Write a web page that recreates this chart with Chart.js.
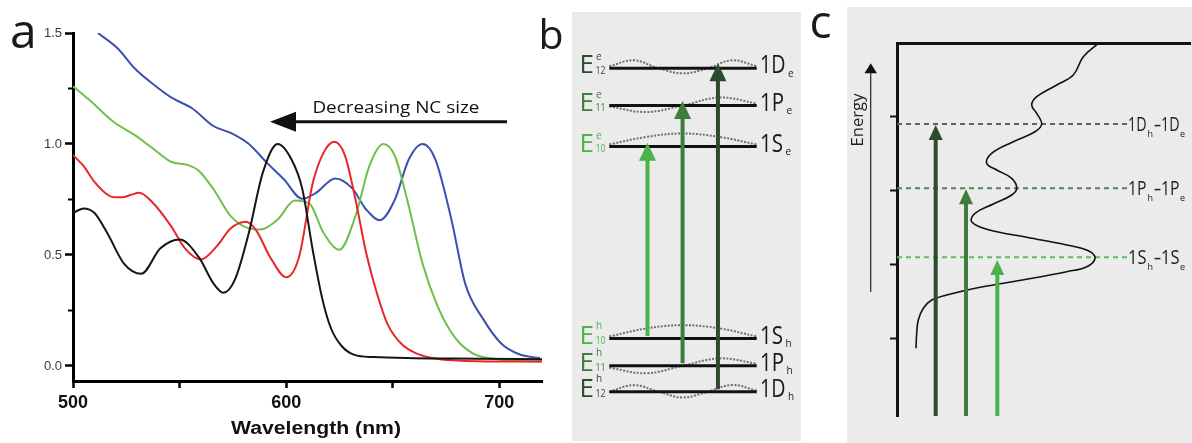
<!DOCTYPE html>
<html><head><meta charset="utf-8">
<script src="https://cdn.jsdelivr.net/npm/chart.js@4/dist/chart.umd.min.js"></script>
<style>
html,body{margin:0;padding:0;background:#fff;width:1192px;height:443px;overflow:hidden;position:relative}
canvas{position:absolute;top:0}
.bg{position:absolute;background:#ebebeb}
</style></head><body>
<div class="bg" style="left:572px;top:12px;width:229px;height:429px"></div>
<div class="bg" style="left:847px;top:7px;width:345px;height:436px"></div>
<canvas id="ca" width="575" height="443" style="left:0"></canvas>
<canvas id="cb" width="280" height="443" style="left:560px"></canvas>
<canvas id="cc" width="352" height="443" style="left:840px"></canvas>
<script>
// ---------- Panel a : absorption spectra ----------
const blackNm  = [500,505,510,516,524,532,541,550,559,566,570.5,576,582.5,589,596,602.5,607.5,612.5,617,621,626,632,641,660,690,720];
const blackAbs = [0.69,0.71,0.69,0.60,0.46,0.415,0.53,0.57,0.49,0.37,0.33,0.39,0.60,0.87,1.0,0.93,0.80,0.52,0.30,0.17,0.09,0.05,0.04,0.035,0.033,0.03];
const redNm  = [500,505,510,515,519,523,527,531,537,546,552.5,560,567.5,574,581,586,592.5,600,606,612.5,617.5,622.5,627.5,632.5,637.5,642.5,647.5,654,661,669,680,700,720];
const redAbs = [0.95,0.90,0.83,0.78,0.76,0.76,0.77,0.78,0.74,0.63,0.53,0.48,0.54,0.62,0.65,0.61,0.49,0.40,0.49,0.825,0.96,1.01,0.95,0.75,0.51,0.33,0.19,0.10,0.057,0.035,0.025,0.02,0.02];
const greenNm  = [500,507.5,519,529,537.5,546,554,559,566,574,582.5,588,596,604,611,617.5,625,632.5,639,645.5,651,657.5,664,671,679,687.5,699,710,720];
const greenAbs = [1.26,1.20,1.10,1.04,0.98,0.92,0.905,0.88,0.795,0.675,0.62,0.615,0.66,0.745,0.73,0.60,0.524,0.675,0.90,1.00,0.946,0.72,0.46,0.27,0.13,0.057,0.03,0.022,0.02];
const blueNm  = [511.7,521,529,537.5,546,556,566,574,582.5,591,599,607.5,614,623,631,637.5,644,651,657.5,664,670,677.5,684,692.5,701,709,719];
const blueAbs = [1.50,1.43,1.34,1.27,1.21,1.16,1.08,1.05,1.0,0.915,0.84,0.753,0.78,0.845,0.80,0.705,0.657,0.75,0.93,1.0,0.93,0.66,0.37,0.21,0.10,0.054,0.035];
const xTicksA = [500,550,600,650,700];
const xLabelsA = {500:'500',600:'600',700:'700'};
const yTicksA = [0,0.5,1.0,1.5];
const yMinorA = [0.25,0.75,1.25];
const xTitleA = 'Wavelength (nm)';
const annotText = 'Decreasing NC size';
const annotArrowNm = [703.6, 592.4];
const annotArrowAbs = 1.10;
const annotTextNm = 612.3, annotTextAbs = 1.14;

// ---------- Panel b : energy levels ----------
const elecLevelE = [1.92, 2.33, 2.702];       // 1Se, 1Pe, 1De
const holeLevelE = [0, -0.272, -0.532];       // 1Sh, 1Ph, 1Dh
const levelMain = ['1S','1P','1D'];
const levelMainW = [23, 24, 25.5];
const levelIdx = ['10','11','12'];
const levelColors = ['#4cb24c','#3e7d3e','#2d4b2d'];
const waveX5 = [0,0.25,0.5,0.75,1];
const waveX7 = [0,0.167,0.333,0.5,0.667,0.833,1];
const waveSe = [0.02,0.095,0.13,0.095,0.02];
const wavePe = [-0.01,-0.065,0,0.08,0.02];
const waveDe = [0.02,0.08,0,-0.05,0,0.08,0.02];
const waveSh = [0.02,0.1,0.133,0.1,0.02];
const wavePh = [-0.02,-0.075,0,0.073,0.02];
const waveDh = [0,0.065,0,-0.057,0,0.067,0.01];
const transX = [0.259, 0.497, 0.737];
const transStart = [0.025, -0.248, -0.508];
const transTip = [1.958, 2.375, 2.752];

// ---------- Panel c : absorption vs energy ----------
const curveAbs = [0.19,0.197,0.213,0.263,0.347,0.497,0.83,1.297,1.697,1.897,1.98,1.913,1.697,1.297,0.897,0.747,0.78,0.963,1.147,1.197,1.147,0.997,0.897,0.947,1.163,1.38,1.447,1.397,1.347,1.397,1.597,1.763,1.863,2.013];
const curveE   = [0.677,0.827,0.96,1.077,1.16,1.21,1.287,1.367,1.443,1.493,1.577,1.653,1.71,1.787,1.867,1.943,2.027,2.12,2.21,2.277,2.377,2.46,2.527,2.627,2.743,2.843,2.92,3.027,3.11,3.193,3.31,3.41,3.593,3.727];
const transE = [1.587, 2.277, 2.92];          // 1Sh-1Se, 1Ph-1Pe, 1Dh-1De
const dashColors = ['#5cbf5c','#558455','#4f6d4f'];
const cArrowX = [1.003, 0.69, 0.387];
const cArrowTip = [1.56, 2.267, 2.91];
const energyTicks = [0.777, 1.52, 2.253, 2.993];
const energyArrow = {x:-0.263, from:1.24, to:3.527};
const energyText = 'Energy';

// ---------- helpers ----------
function txt(ctx, s, x, y, size, color, o) {
  o = o || {};
  ctx.save();
  ctx.font = (o.weight || 'normal') + ' ' + size + 'px ' + (o.family || "'Open Sans', sans-serif");
  ctx.fillStyle = color;
  ctx.textBaseline = 'alphabetic';
  ctx.textAlign = o.align || 'left';
  let sx = 1;
  if (o.width) sx = o.width / ctx.measureText(s).width;
  ctx.translate(x, y);
  if (o.rot) ctx.rotate(o.rot);
  ctx.scale(sx, 1);
  ctx.fillText(s, 0, 0);
  ctx.restore();
}
function tri(ctx, x, tipY, len, w, color) {
  ctx.save(); ctx.fillStyle = color; ctx.beginPath();
  ctx.moveTo(x, tipY); ctx.lineTo(x - w/2, tipY + len); ctx.lineTo(x + w/2, tipY + len);
  ctx.closePath(); ctx.fill(); ctx.restore();
}
const pts = (xs, ys) => xs.map((x, i) => ({x, y: ys[i]}));
Chart.defaults.font.family = "'Liberation Sans', Arial, sans-serif";

// ---------- Chart a ----------
const plugA = {
  id: 'plugA',
  afterDraw(chart) {
    const ctx = chart.ctx, xs = chart.scales.x, ys = chart.scales.y, ca = chart.chartArea;
    ctx.save(); ctx.strokeStyle = '#000'; ctx.lineWidth = 2;
    yMinorA.forEach(v => { const p = ys.getPixelForValue(v); ctx.beginPath(); ctx.moveTo(ca.left - 5, p); ctx.lineTo(ca.left, p); ctx.stroke(); });
    const ay = ys.getPixelForValue(annotArrowAbs);
    const x1 = xs.getPixelForValue(annotArrowNm[0]), x2 = xs.getPixelForValue(annotArrowNm[1]);
    ctx.strokeStyle = '#111'; ctx.lineWidth = 3;
    ctx.beginPath(); ctx.moveTo(x1, ay); ctx.lineTo(x2 + 20, ay); ctx.stroke();
    ctx.fillStyle = '#111'; ctx.beginPath();
    ctx.moveTo(x2, ay); ctx.lineTo(x2 + 26, ay - 10); ctx.lineTo(x2 + 26, ay + 10); ctx.closePath(); ctx.fill();
    ctx.restore();
    txt(ctx, annotText, xs.getPixelForValue(annotTextNm), ys.getPixelForValue(annotTextAbs), 16.5, '#111', {width: 167});
    txt(ctx, xTitleA, 316, 434, 17.5, '#111', {weight: 'bold', family: "'Liberation Sans', Arial, sans-serif", width: 170, align: 'center'});
    txt(ctx, 'a', 10, 48, 48, '#1a1a1a');
    txt(ctx, 'b', 538.5, 49, 41, '#1a1a1a');
  }
};
const lineDs = (label, xs, ys, color) => ({label, data: pts(xs, ys), borderColor: color, borderWidth: 2, pointRadius: 0, cubicInterpolationMode: 'monotone', fill: false});
new Chart(document.getElementById('ca'), {
  type: 'line',
  data: {datasets: [
    lineDs('black', blackNm, blackAbs, '#151515'),
    lineDs('red', redNm, redAbs, '#e8262b'),
    lineDs('green', greenNm, greenAbs, '#6fc04b'),
    lineDs('blue', blueNm, blueAbs, '#3b50b2')
  ]},
  options: {
    responsive: false, animation: false, devicePixelRatio: 1,
    layout: {padding: {left: 0, top: 33, right: 33, bottom: 0}},
    plugins: {legend: {display: false}, tooltip: {enabled: false}},
    scales: {
      x: {type: 'linear', min: 500, max: 720,
        afterFit(s) { s.height = 62; },
        afterBuildTicks(s) { s.ticks = xTicksA.map(v => ({value: v})); },
        border: {display: true, color: '#000', width: 3},
        grid: {display: true, drawOnChartArea: false, drawTicks: true, tickLength: 7, tickWidth: 2.5, color: '#000'},
        ticks: {callback: v => xLabelsA[v] || '', font: {size: 18, weight: 'bold'}, color: '#111', padding: 4, maxRotation: 0, autoSkip: false}
      },
      y: {type: 'linear', min: -0.0676, max: 1.5,
        afterFit(s) { s.width = 73; },
        afterBuildTicks(s) { s.ticks = yTicksA.map(v => ({value: v})); },
        border: {display: true, color: '#000', width: 3},
        grid: {display: true, drawOnChartArea: false, drawTicks: true, tickLength: 8, tickWidth: 2.5, color: '#000'},
        ticks: {callback: v => Number(v).toFixed(1), font: {size: 13}, color: '#3a3a3a', padding: 3}
      }
    }
  },
  plugins: [plugA]
});

// ---------- Chart b ----------
const bDatasets = [];
transX.forEach((x, i) => bDatasets.push({data: [{x, y: transStart[i]}, {x, y: transTip[i] - 0.12}], borderColor: levelColors[i], borderWidth: 4, pointRadius: 0, tension: 0, order: 0, head: {x, tip: transTip[i], color: levelColors[i]}}));
const waves = [[waveX5, waveSe, elecLevelE[0]], [waveX5, wavePe, elecLevelE[1]], [waveX7, waveDe, elecLevelE[2]],
               [waveX5, waveSh, holeLevelE[0]], [waveX5, wavePh, holeLevelE[1]], [waveX7, waveDh, holeLevelE[2]]];
waves.forEach(([wx, wy, E]) => bDatasets.push({data: wx.map((x, k) => ({x, y: E + wy[k]})), borderColor: '#6e6e6e', borderWidth: 2, borderDash: [2, 1.5], pointRadius: 0, tension: 0.4, order: 2}));
elecLevelE.concat(holeLevelE).forEach(E => bDatasets.push({data: [{x: 0, y: E}, {x: 1, y: E}], borderColor: '#111', borderWidth: 3, pointRadius: 0, tension: 0, order: 1}));
const plugB = {
  id: 'plugB',
  afterDatasetsDraw(chart) {
    const ctx = chart.ctx, xs = chart.scales.x, ys = chart.scales.y;
    chart.data.datasets.forEach(ds => { if (ds.head) tri(ctx, xs.getPixelForValue(ds.head.x), ys.getPixelForValue(ds.head.tip), 18, 17, ds.head.color); });
  },
  afterDraw(chart) {
    const ctx = chart.ctx, xs = chart.scales.x, ys = chart.scales.y;
    const xE = xs.getPixelForValue(-0.202), xR = xs.getPixelForValue(1.022);
    [[elecLevelE, 'e'], [holeLevelE, 'h']].forEach(([levels, s]) => {
      levels.forEach((E, i) => {
        const py = ys.getPixelForValue(E), col = levelColors[i];
        txt(ctx, 'E', xE, py + 5, 26, col);
        txt(ctx, s, xE + 16.5, py - (s === 'e' ? 8 : 10), 10, col);
        txt(ctx, levelIdx[i], xE + 16, py + 5.5, 10, col, {width: 10});
        txt(ctx, levelMain[i], xR, py + 5, 25, '#1a1a1a', {width: levelMainW[i]});
        txt(ctx, s, xR + levelMainW[i] + 2.5, py + 8.5, 10, '#1a1a1a');
      });
    });
    txt(ctx, 'c', 249.5, 38, 46, '#1a1a1a');
  }
};
new Chart(document.getElementById('cb'), {
  type: 'scatter',
  data: {datasets: bDatasets.map(d => Object.assign({showLine: true, fill: false}, d))},
  options: {
    responsive: false, animation: false, devicePixelRatio: 1,
    layout: {padding: 0},
    plugins: {legend: {display: false}, tooltip: {enabled: false}},
    scales: {
      x: {type: 'linear', display: false, min: -0.3345, max: 1.565},
      y: {type: 'linear', display: false, min: -1.045, max: 3.385}
    }
  },
  plugins: [plugB]
});

// ---------- Chart c ----------
const cDatasets = [];
cArrowX.forEach((x, i) => cDatasets.push({data: [{x, y: 0}, {x, y: cArrowTip[i] - 0.1}], borderColor: levelColors[i], borderWidth: 4, pointRadius: 0, tension: 0, order: 0, head: {x, tip: cArrowTip[i], color: levelColors[i]}}));
cDatasets.push({data: pts(curveAbs, curveE), borderColor: '#111', borderWidth: 1.6, pointRadius: 0, tension: 0.4, order: 1});
transE.forEach((E, i) => cDatasets.push({data: [{x: 0, y: E}, {x: 2.305, y: E}], borderColor: dashColors[i], borderWidth: 2, borderDash: [5, 4], pointRadius: 0, tension: 0, order: 2}));
const plugC = {
  id: 'plugC',
  afterDatasetsDraw(chart) {
    const ctx = chart.ctx, xs = chart.scales.x, ys = chart.scales.y;
    chart.data.datasets.forEach(ds => { if (ds.head) tri(ctx, xs.getPixelForValue(ds.head.x), ys.getPixelForValue(ds.head.tip), 15, 14, ds.head.color); });
  },
  afterDraw(chart) {
    const ctx = chart.ctx, xs = chart.scales.x, ys = chart.scales.y;
    const ex = xs.getPixelForValue(energyArrow.x), y1 = ys.getPixelForValue(energyArrow.from), y2 = ys.getPixelForValue(energyArrow.to);
    ctx.save(); ctx.strokeStyle = '#222'; ctx.lineWidth = 1.2;
    ctx.beginPath(); ctx.moveTo(ex, y1); ctx.lineTo(ex, y2 + 8); ctx.stroke(); ctx.restore();
    tri(ctx, ex, y2, 10, 12.5, '#111');
    txt(ctx, energyText, xs.getPixelForValue(-0.34), ys.getPixelForValue(2.96), 16.5, '#222', {rot: -Math.PI / 2, align: 'center', width: 53});
    const x0 = xs.getPixelForValue(2.31);
    transE.forEach((E, i) => {
      const py = ys.getPixelForValue(E), m = levelMain[i];
      txt(ctx, m, x0, py + 7, 19.5, '#222', {width: 18.5});
      txt(ctx, 'h', x0 + 19.5, py + 13, 9, '#222');
      txt(ctx, '\u2013', x0 + 26, py + 7, 19.5, '#222', {width: 7});
      txt(ctx, m, x0 + 33, py + 7, 19.5, '#222', {width: 18.5});
      txt(ctx, 'e', x0 + 52, py + 13, 9, '#222');
    });
  }
};
new Chart(document.getElementById('cc'), {
  type: 'scatter',
  data: {datasets: cDatasets.map(d => Object.assign({showLine: true, fill: false}, d))},
  options: {
    responsive: false, animation: false, devicePixelRatio: 1,
    layout: {padding: {left: 0, top: 0, right: 2, bottom: 27}},
    plugins: {legend: {display: false}, tooltip: {enabled: false}},
    scales: {
      x: {type: 'linear', position: 'top', min: 0, max: 2.93,
        afterFit(s) { s.height = 43; },
        border: {display: true, color: '#111', width: 3},
        grid: {display: false, drawTicks: false},
        ticks: {display: false}
      },
      y: {type: 'linear', min: 0, max: 3.73,
        afterFit(s) { s.width = 57; },
        afterBuildTicks(s) { s.ticks = energyTicks.map(v => ({value: v})); },
        border: {display: true, color: '#111', width: 3},
        grid: {display: true, drawOnChartArea: false, drawTicks: true, tickLength: 7, tickWidth: 2, color: '#111'},
        ticks: {display: false}
      }
    }
  },
  plugins: [plugC]
});
</script>
</body></html>
